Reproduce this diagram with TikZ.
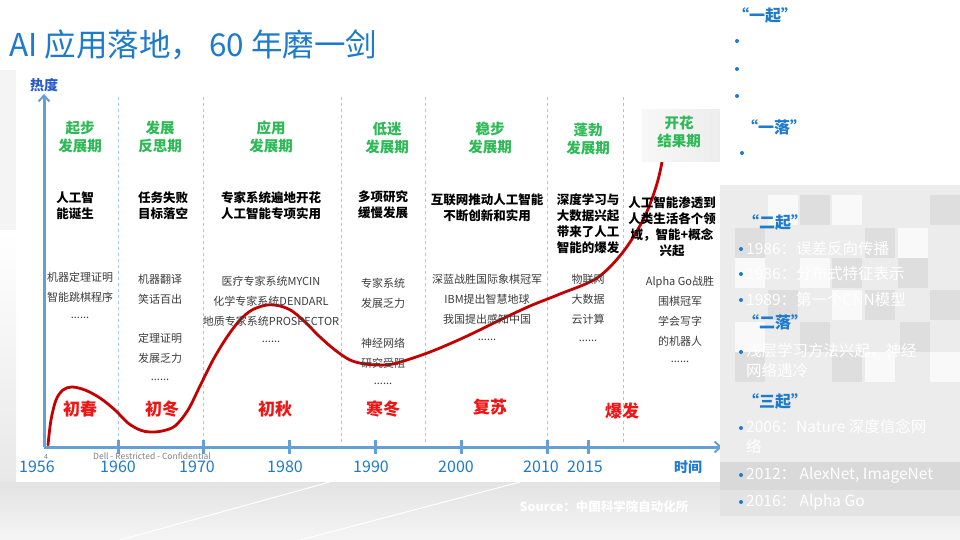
\documentclass[tikz,border=0pt]{standalone}
\usepackage{fontspec}
\setmainfont{Noto Sans CJK SC}
\usetikzlibrary{arrows.meta}
\definecolor{tblue}{RGB}{30,122,205}
\definecolor{hblue}{RGB}{40,90,200}
\definecolor{axisblue}{RGB}{100,160,215}
\definecolor{sepblue}{RGB}{160,200,235}
\definecolor{hgreen}{RGB}{45,185,85}
\definecolor{lred}{RGB}{240,20,20}
\definecolor{cred}{RGB}{195,0,0}
\definecolor{gtext}{RGB}{60,60,60}
\definecolor{pagebg}{RGB}{244,244,244}
\definecolor{tileA}{RGB}{222,222,222}
\definecolor{tileB}{RGB}{236,236,236}
\begin{document}
\begin{tikzpicture}[x=1pt,y=-1pt,
  heading/.style={text=hgreen,font=\fontsize{14.5}{18}\selectfont\bfseries,align=center,inner sep=0pt},
  desc/.style={text=black,font=\fontsize{12.5}{16}\selectfont\bfseries,align=center,inner sep=0pt},
  note/.style={text=gtext,font=\fontsize{11}{20}\selectfont,align=center,inner sep=0pt},
  season/.style={text=lred,font=\fontsize{17}{20}\selectfont\bfseries,inner sep=0pt},
  year/.style={text=tblue,font=\fontsize{16}{18}\selectfont,inner sep=0pt},
  axisline/.style={draw=axisblue,line width=3pt},
  tickmark/.style={draw=axisblue,line width=3pt},
  sepline/.style={draw=sepblue,line width=0.9pt,dash pattern=on 3pt off 3pt},
  phase/.style={text=tblue,font=\fontsize{16}{18}\selectfont\bfseries,inner sep=0pt},
  bulletdot/.style={fill=tblue,circle,inner sep=0pt,minimum size=4pt},
  paneltext/.style={text=white,font=\fontsize{15.5}{20}\selectfont,anchor=west,inner sep=0pt,align=left}
]
\useasboundingbox (0,0) rectangle (960,540);
% page background
\fill[pagebg] (0,0) rectangle (960,540);
\fill[white] (0,0) rectangle (720,70);
\fill[white] (16,70) rectangle (720,482);
\shade[top color=white,bottom color=gray!18] (0,230) rectangle (16,482);
% floor
\shade[top color=gray!22,bottom color=gray!8] (0,482) rectangle (960,540);
\draw[white,line width=1pt] (300,540) -- (520,482);
\draw[white,line width=1pt] (760,540) -- (800,482);
\draw[white,line width=1pt] (120,540) -- (330,482);

% title
\node[text=tblue,font=\fontsize{31.5}{34}\selectfont,anchor=west,inner sep=0pt] (title) at (9,45) {AI 应用落地， 60 年磨一剑};
\node[text=hblue,font=\fontsize{14}{16}\selectfont\bfseries,inner sep=0pt] (redu) at (44,85) {热度};

% separators
\foreach \x [count=\i] in {118,203,341,425,547,623}{
  \draw[sepline] (\x,97) -- (\x,445);
}

% axes
\coordinate (origin) at (44,447);
\coordinate (ytop) at (44,94);
\coordinate (xend) at (722,447);
\draw[axisline,-{Straight Barb[length=6pt,width=11pt,line width=2pt]}] (origin) -- (ytop);
\draw[axisline,-{Straight Barb[length=6pt,width=11pt,line width=2pt]}] (origin) -- (xend);
\foreach \x in {118,203,289,375,461,547,588}{
  \draw[tickmark] (\x,440) -- (\x,454);
}

% years
\node[year] (y1956) at (37,467) {1956};
\node[year] (y1960) at (118,467) {1960};
\node[year] (y1970) at (197,467) {1970};
\node[year] (y1980) at (285,467) {1980};
\node[year] (y1990) at (371,467) {1990};
\node[year] (y2000) at (456,467) {2000};
\node[year] (y2010) at (541,467) {2010};
\node[year] (y2015) at (585,467) {2015};
\node[text=tblue,font=\fontsize{14}{16}\selectfont\bfseries,inner sep=0pt] (shijian) at (688,467) {时间};
\node[text=gray,font=\fontsize{7}{8}\selectfont,inner sep=0pt] (pg) at (46,457) {4};
\node[text=gray,font=\fontsize{8.5}{9}\selectfont,anchor=west,inner sep=0pt] (dell) at (93,456) {Dell - Restricted - Confidential};

% red curve
\draw[cred,line width=2.8pt,line cap=round] plot[smooth,tension=0.55] coordinates {
 (48,445) (51,420) (56,400) (63,390) (72,387) (85,390) (100,398) (115,410) (128,423) (140,430) (150,432) (162,431) (175,426) (188,410) (200,386) (213,360) (227,337) (240,320) (252,310) (267,305) (280,306) (292,311) (305,322) (320,337) (335,350) (350,360) (365,364) (382,365) (397,363) (430,352) (465,337) (500,320) (530,306) (560,294) (597,278) (623,252) (643,220) (655,190) (662,162) (668,120)};

% patch behind 开花结果期
\shade[left color=gray!6,right color=gray!14] (642,110) rectangle (720,162);

% headings
\node[heading] (h1) at (80,137) {起步\\发展期};
\node[heading] (h2) at (160,137) {发展\\反思期};
\node[heading] (h3) at (271,137) {应用\\发展期};
\node[heading] (h4) at (387,138) {低迷\\发展期};
\node[heading] (h5) at (490,138) {稳步\\发展期};
\node[heading] (h6) at (588,139) {蓬勃\\发展期};
\node[heading] (h7) at (679,132) {开花\\结果期};

% descriptions
\node[desc] (d1) at (75,206) {人工智\\能诞生};
\node[desc] (d2) at (163,206) {任务失败\\目标落空};
\node[desc] (d3) at (271,206) {专家系统遍地开花\\人工智能专项实用};
\node[desc] (d4) at (383,205) {多项研究\\缓慢发展};
\node[desc] (d5) at (487,208) {互联网推动人工智能\\不断创新和实用};
\node[desc] (d6) at (588,224) {深度学习与\\大数据兴起\\带来了人工\\智能的爆发};
\node[desc] (d7) at (672,227) {人工智能渗透到\\人类生活各个领\\域，智能+概念\\兴起};

% notes
\node[note] (n1) at (80,287) {机器定理证明\\智能跳棋程序};
\node[note] (n1b) at (80,318) {......};
\node[note] (n2) at (160,289) {机器翻译\\笑话百出};
\node[note] (n2b) at (160,348) {定理证明\\发展乏力};
\node[note] (n2c) at (160,380) {......};
\node[note] (n3) at (271,301) {医疗专家系统MYCIN\\化学专家系统DENDARL\\地质专家系统PROSPECTOR};
\node[note] (n3b) at (271,342) {......};
\node[note] (n4) at (383,293) {专家系统\\发展乏力};
\node[note] (n4b) at (383,353) {神经网络\\研究受阻};
\node[note] (n4c) at (383,384) {......};
\node[note] (n5) at (487,299) {深蓝战胜国际象棋冠军\\IBM提出智慧地球\\我国提出感知中国};
\node[note] (n5b) at (487,340) {......};
\node[note] (n6) at (588,299) {物联网\\大数据\\云计算};
\node[note] (n6b) at (588,341) {......};
\node[note] (n7) at (680,311) {Alpha Go战胜\\围棋冠军\\学会写字\\的机器人};
\node[note] (n7b) at (680,362) {......};

% seasons
\node[season] (s1) at (80,409) {初春};
\node[season] (s2) at (162,409) {初冬};
\node[season] (s3) at (275,409) {初秋};
\node[season] (s4) at (383,409) {寒冬};
\node[season] (s5) at (490,407) {复苏};
\node[season] (s6) at (622,411) {爆发};

% right panel background
\fill[white] (720,0) rectangle (960,185);
\fill[tileB] (720,185) rectangle (960,462);
\foreach \x/\y in {800/195,865/228,930/195,735/228,832/258,898/258,768/290,865/290,930/290,800/322,900/322,735/352,832/352,898/385,768/415,930/415}{
  \fill[tileA] (\x,\y) rectangle ++(30,30);
}
\foreach \x/\y in {768/195,832/195,735/258,898/228,800/258,832/290,735/322,865/352,800/385,930/352}{
  \fill[white!70!tileB] (\x,\y) rectangle ++(30,30);
}
\fill[tileB] (720,385) rectangle (960,462);
\fill[gray!30] (720,462) rectangle (960,490);
\fill[gray!22] (720,490) rectangle (960,516);
\shade[top color=gray!14,bottom color=gray!8] (720,516) rectangle (960,540);

% right panel text
\node[phase] (p1) at (765,15) {“一起”};
\node[bulletdot] (b1) at (737,41) {};
\node[bulletdot] (b2) at (737,69) {};
\node[bulletdot] (b3) at (737,96) {};
\node[phase] (p2) at (774,127) {“一落”};
\node[bulletdot] (b4) at (742,153) {};
\node[phase] (p3) at (775,222) {“二起”};
\node[bulletdot] (b5) at (741,249) {};
\node[paneltext] (t5) at (746,249) {1986：误差反向传播};
\node[bulletdot] (b6) at (741,274) {};
\node[paneltext] (t6) at (746,274) {1986：分布式特征表示};
\node[bulletdot] (b7) at (741,300) {};
\node[paneltext] (t7) at (746,300) {1989：第一个CNN模型};
\node[phase] (p4) at (775,322) {“二落”};
\node[bulletdot] (b8) at (741,352) {};
\node[paneltext,anchor=north west] (t8) at (746,343) {浅层学习方法兴起，神经\\网络遇冷};
\node[phase] (p5) at (775,401) {“三起”};
\node[bulletdot] (b9) at (741,428) {};
\node[paneltext,anchor=north west] (t9) at (746,419) {2006：Nature 深度信念网\\络};
\node[bulletdot] (b10) at (741,475) {};
\node[paneltext] (t10) at (746,475) {2012： AlexNet, ImageNet};
\node[bulletdot] (b11) at (741,502) {};
\node[paneltext] (t11) at (746,502) {2016： Alpha Go};

% source
\node[text=white,font=\fontsize{12.5}{14}\selectfont\bfseries,inner sep=0pt] (src) at (604,507) {Source：中国科学院自动化所};
\end{tikzpicture}
\end{document}
